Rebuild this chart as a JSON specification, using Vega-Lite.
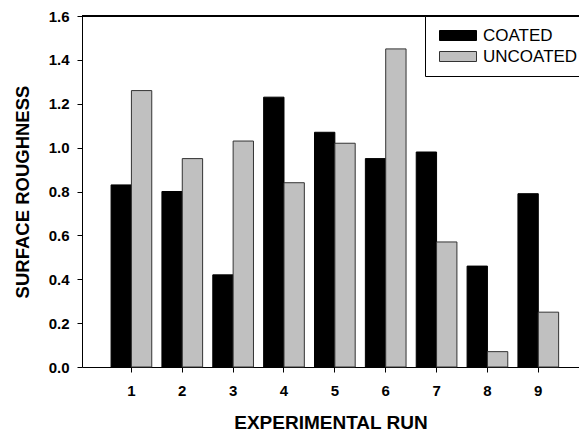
{
  "$schema": "https://vega.github.io/schema/vega-lite/v6.json",
  "autosize": "none",
  "width": 497,
  "height": 351,
  "padding": {"left": 82, "top": 16, "right": 0, "bottom": 67},
  "background": "white",
  "config": {
    "view": {"stroke": null},
    "font": "Liberation Sans",
    "axis": {
      "domainColor": "black",
      "domainWidth": 1,
      "tickColor": "black",
      "tickSize": 5,
      "tickWidth": 1,
      "grid": false,
      "labelFont": "Liberation Sans",
      "labelFontWeight": "bold",
      "labelFontSize": 15,
      "labelColor": "black",
      "titleFont": "Liberation Sans",
      "titleFontWeight": "bold",
      "titleColor": "black"
    }
  },
  "data": {
    "values": [
      {"run": "1", "type": "COATED", "roughness": 0.83},
      {"run": "1", "type": "UNCOATED", "roughness": 1.26},
      {"run": "2", "type": "COATED", "roughness": 0.80},
      {"run": "2", "type": "UNCOATED", "roughness": 0.95},
      {"run": "3", "type": "COATED", "roughness": 0.42},
      {"run": "3", "type": "UNCOATED", "roughness": 1.03},
      {"run": "4", "type": "COATED", "roughness": 1.23},
      {"run": "4", "type": "UNCOATED", "roughness": 0.84},
      {"run": "5", "type": "COATED", "roughness": 1.07},
      {"run": "5", "type": "UNCOATED", "roughness": 1.02},
      {"run": "6", "type": "COATED", "roughness": 0.95},
      {"run": "6", "type": "UNCOATED", "roughness": 1.45},
      {"run": "7", "type": "COATED", "roughness": 0.98},
      {"run": "7", "type": "UNCOATED", "roughness": 0.57},
      {"run": "8", "type": "COATED", "roughness": 0.46},
      {"run": "8", "type": "UNCOATED", "roughness": 0.07},
      {"run": "9", "type": "COATED", "roughness": 0.79},
      {"run": "9", "type": "UNCOATED", "roughness": 0.25}
    ]
  },
  "layer": [
    {
      "mark": {"type": "bar", "strokeWidth": 1},
      "encoding": {
        "x": {
          "field": "run",
          "type": "ordinal",
          "scale": {"paddingInner": 0.2, "paddingOuter": 0.486, "align": 0.588},
          "axis": {"title": "EXPERIMENTAL RUN", "titleFontSize": 19, "labelAngle": 0, "labelPadding": 11, "titlePadding": 15}
        },
        "xOffset": {"field": "type", "type": "nominal", "scale": {"paddingInner": 0, "paddingOuter": 0}},
        "y": {
          "field": "roughness",
          "type": "quantitative",
          "scale": {"domain": [0, 1.6], "nice": false},
          "axis": {"title": "SURFACE ROUGHNESS", "titleFontSize": 18.5, "values": [0, 0.2, 0.4, 0.6, 0.8, 1.0, 1.2, 1.4, 1.6], "format": ".1f", "labelPadding": 8, "titlePadding": 16}
        },
        "fill": {
          "field": "type",
          "type": "nominal",
          "scale": {"domain": ["COATED", "UNCOATED"], "range": ["#000000", "#C0C0C0"]},
          "legend": {
            "title": null,
            "orient": "none",
            "legendX": 343,
            "legendY": 0,
            "strokeColor": "black",
            "fillColor": "white",
            "padding": 11,
            "rowPadding": 3,
            "labelFont": "Liberation Sans",
            "labelFontSize": 17,
            "labelFontWeight": "normal",
            "labelColor": "black",
            "labelOffset": 30,
            "symbolType": "M-1,-1H6.4V1H-1Z",
            "symbolSize": 100,
            "symbolStrokeWidth": 1,
            "symbolStrokeColor": "#333333",
            "symbolOpacity": 1
          }
        },
        "stroke": {
          "field": "type",
          "type": "nominal",
          "scale": {"domain": ["COATED", "UNCOATED"], "range": ["#000000", "#333333"]},
          "legend": null
        }
      }
    },
    {
      "mark": {"type": "rule", "color": "black", "strokeWidth": 1},
      "encoding": {"y": {"datum": 1.6}}
    }
  ]
}
